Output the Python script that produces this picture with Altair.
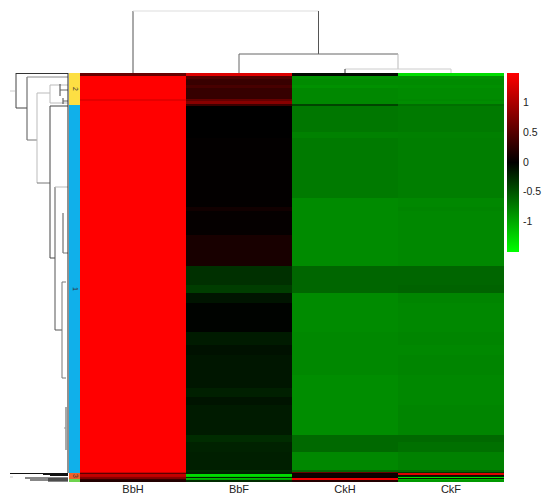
import altair as alt
import pandas as pd

# ---------------- data ----------------
columns = ["BbH", "BbF", "CkH", "CkF"]

# heatmap bands: number of rows in each band, and row-scaled value per column
band_rows = [3, 3, 6, 3, 11, 2, 3, 2,
             26, 6, 60, 9, 4, 24, 31,
             19, 8, 10, 29,
             13, 10, 20, 13, 9, 8, 30,
             7, 10, 18, 2, 1,
             1, 1, 1, 1, 1, 1, 1, 2]
val_BbH = [0.6, 1.5, 1.5, 1.5, 1.5, 1.35, 1.5, 1.5,
           1.5, 1.5, 1.5, 1.5, 1.5, 1.5, 1.5,
           1.5, 1.5, 1.5, 1.5,
           1.5, 1.5, 1.5, 1.5, 1.5, 1.5, 1.5,
           1.5, 1.5, 1.5, 1.5, 1.2,
           0.55, 1.15, 1.15, 1.1, 0.8, 0.75, 0.3, 0.2]
val_BbF = [1.3, 0.47, 0.33, 0.42, 0.32, 0.6, 0.8, 0.35,
           0.0, 0.0, 0.02, 0.02, 0.1, 0.03, 0.14,
           -0.28, -0.36, -0.12, -0.02,
           -0.16, -0.1, -0.13, -0.13, -0.19, -0.12, -0.16,
           -0.26, -0.2, -0.18, -0.25, -0.2,
           -0.2, -1.3, -1.3, -1.2, -0.2, -1.1, -1.0, -0.25]
val_CkH = [-0.05, -0.85, -0.82, -0.85, -0.8, -0.8, -0.8, -0.4,
           -0.7, -0.76, -0.72, -0.82, -0.82, -0.82, -0.82,
           -0.6, -0.6, -0.82, -0.82,
           -0.8, -0.8, -0.8, -0.83, -0.83, -0.83, -0.83,
           -0.62, -0.62, -0.8, -0.6, 0.6,
           0.05, 0.08, 0.08, 0.05, 0.05, 1.4, 1.4, 0.2]
val_CkF = [-1.3, -0.85, -0.82, -0.84, -0.82, -0.8, -0.83, -0.65,
           -0.72, -0.75, -0.74, -0.8, -0.78, -0.8, -0.8,
           -0.6, -0.58, -0.78, -0.8,
           -0.78, -0.8, -0.78, -0.8, -0.8, -0.8, -0.78,
           -0.62, -0.66, -0.76, -0.62, -0.3,
           1.3, 1.3, -0.1, -0.2, -1.3, -0.15, -1.0, -0.9]

# row clusters (cutree groups): rows, colour, label
cluster_rows = [32, 368, 6, 3]
cluster_fill = ["#FDDF43", "#10B0EA", "#F0622A", "#6DD34E"]
cluster_label = ["2", "1", "3", ""]

# column dendrogram: leaf positions (column units) and merge heights
top_x1 = [0.5, 0.5, 2.25, 1.5, 1.5, 3.0, 2.5, 2.5, 3.5]
top_x2 = [0.5, 2.25, 2.25, 3.0, 1.5, 3.0, 3.5, 2.5, 3.5]
top_h1 = [0, 62, 19, 19, 0, 4, 4, 0, 0]
top_h2 = [62, 62, 62, 19, 19, 19, 4, 4, 4]
top_col = ["#555555", "#dddddd", "#555555", "#666666", "#666666",
           "#bbbbbb", "#cccccc", "#333333", "#cccccc"]

# row dendrogram: heights (from leaves) and row positions
left_h1 = [53, 53, 53, 42, 42, 42, 32, 32, 19, 19, 19, 9, 6, 9, 6,
           32, 19, 19, 19, 14, 14, 6, 6, 14, 7, 7, 7, 3, 5, 1,
           59, 26, 19, 44, 39, 21, 21, 59, 59]
left_h2 = [53, 1, 42, 42, 1, 32, 32, 19, 19, 1, 1, 9, 6, 1, 1,
           19, 19, 1, 14, 14, 1, 6, 1, 7, 7, 3, 3, 3, 3, 1,
           1, 1, 1, 1, 1, 1, 1, 56, 54]
left_r1 = [0, 0.5, 35, 4, 4, 67, 20, 20, 12, 12, 30, 11, 25, 17, 28,
           110, 33, 33, 185, 114, 114, 140, 180, 257, 209, 209, 305, 334, 355, 0,
           400.5, 401.5, 402.5, 405, 407, 406, 408, 404, 18]
left_r2 = [35, 0.5, 35, 67, 4, 67, 110, 20, 30, 12, 30, 23, 31, 17, 28,
           110, 185, 33, 185, 257, 114, 180, 180, 257, 305, 209, 305, 377, 355, 400,
           400.5, 401.5, 402.5, 405, 407, 406, 408, 404, 18]
left_col = ["#444444", "#333333", "#444444", "#555555", "#888888", "#777777",
            "#bbbbbb", "#bbbbbb", "#bbbbbb", "#bbbbbb", "#bbbbbb", "#444444",
            "#444444", "#666666", "#666666",
            "#777777", "#444444", "#444444", "#444444", "#555555", "#bbbbbb",
            "#555555", "#777777", "#555555", "#777777", "#777777", "#777777",
            "#555555", "#999999", "#222222",
            "#111111", "#111111", "#111111", "#111111", "#111111", "#111111",
            "#111111", "#cccccc", "#cccccc"]

legend_values = [-1, -0.5, 0, 0.5, 1]

# ---------------- tables ----------------
N_ROWS = sum(band_rows)
heat_records = []
start = 0
for i, n in enumerate(band_rows):
    vals = [val_BbH[i], val_BbF[i], val_CkH[i], val_CkF[i]]
    for j, c in enumerate(columns):
        heat_records.append({"col": c, "c0": j, "c1": j + 1,
                             "r0": start, "r1": start + n, "value": vals[j]})
    start += n
heat_df = pd.DataFrame(heat_records)

clu_records = []
start = 0
for n, f, lab in zip(cluster_rows, cluster_fill, cluster_label):
    clu_records.append({"r0": start, "r1": start + n, "mid": start + n / 2,
                        "fill": f, "label": lab})
    start += n
clu_df = pd.DataFrame(clu_records)

top_df = pd.DataFrame({"x1": top_x1, "x2": top_x2, "h1": top_h1,
                       "h2": top_h2, "stroke": top_col})
left_df = pd.DataFrame({"h1": left_h1, "h2": left_h2, "r1": left_r1,
                        "r2": left_r2, "stroke": left_col})
lab_df = pd.DataFrame({"col": columns, "cx": [0.5, 1.5, 2.5, 3.5]})

# ---------------- scales ----------------
X_RANGE = [72, 496]
Y_RANGE = [65, 474]
col_scale = alt.Scale(domain=[0, 4], range=X_RANGE, nice=False, zero=False)
row_scale = alt.Scale(domain=[0, N_ROWS], range=Y_RANGE, nice=False, zero=False)
FONT = "Liberation Sans"

heat = alt.Chart(heat_df).mark_rect().encode(
    x=alt.X("c0:Q", scale=col_scale, axis=None),
    x2="c1:Q",
    y=alt.Y("r0:Q", scale=row_scale, axis=None),
    y2="r1:Q",
    color=alt.Color(
        "value:Q",
        title=None,
        scale=alt.Scale(domain=[-1.5, 0, 1.5],
                        range=["#00ff00", "#000000", "#ff0000"],
                        interpolate="rgb", clamp=True),
        legend=alt.Legend(orient="none", legendX=499, legendY=65,
                          direction="vertical", gradientLength=179,
                          gradientThickness=12, gradientStrokeWidth=0,
                          values=legend_values, labelFontSize=10.5,
                          labelFont=FONT, labelColor="#222222",
                          labelOffset=4, labelExpr="'' + datum.value"),
    ),
)

top = alt.Chart(top_df).mark_rule(strokeWidth=1).encode(
    x=alt.X("x1:Q", scale=col_scale, axis=None),
    x2="x2:Q",
    y=alt.Y("h1:Q", scale=alt.Scale(domain=[0, 62], range=[65, 3], nice=False, zero=False), axis=None),
    y2="h2:Q",
    color=alt.Color("stroke:N", scale=None),
)

left = alt.Chart(left_df).mark_rule(strokeWidth=1).encode(
    x=alt.X("h1:Q", scale=alt.Scale(domain=[0, 59], range=[61, 2], nice=False, zero=False), axis=None),
    x2="h2:Q",
    y=alt.Y("r1:Q", scale=row_scale, axis=None),
    y2="r2:Q",
    color=alt.Color("stroke:N", scale=None),
)

bar = alt.Chart(clu_df).mark_rect().encode(
    x=alt.value(61), x2=alt.value(72),
    y=alt.Y("r0:Q", scale=row_scale, axis=None),
    y2="r1:Q",
    color=alt.Color("fill:N", scale=None),
)

bar_text = alt.Chart(clu_df).mark_text(fontSize=7, font=FONT, color="#333333",
                                       angle=90, baseline="middle", align="center").encode(
    x=alt.value(66.5),
    y=alt.Y("mid:Q", scale=row_scale, axis=None),
    text="label:N",
)

col_text = alt.Chart(lab_df).mark_text(fontSize=11, font=FONT, color="#222222",
                                       baseline="alphabetic", align="center").encode(
    x=alt.X("cx:Q", scale=col_scale, axis=None),
    y=alt.value(485),
    text="col:N",
)

chart = alt.layer(heat, top, left, bar, bar_text, col_text).resolve_scale(
    x="independent", y="independent", color="independent"
).properties(
    width=534, height=486, padding=0,
    autosize=alt.AutoSizeParams(type="none"),
    background="white",
).configure_view(stroke=None)

chart.save("out.html", embed_options={"renderer": "svg", "actions": False})
